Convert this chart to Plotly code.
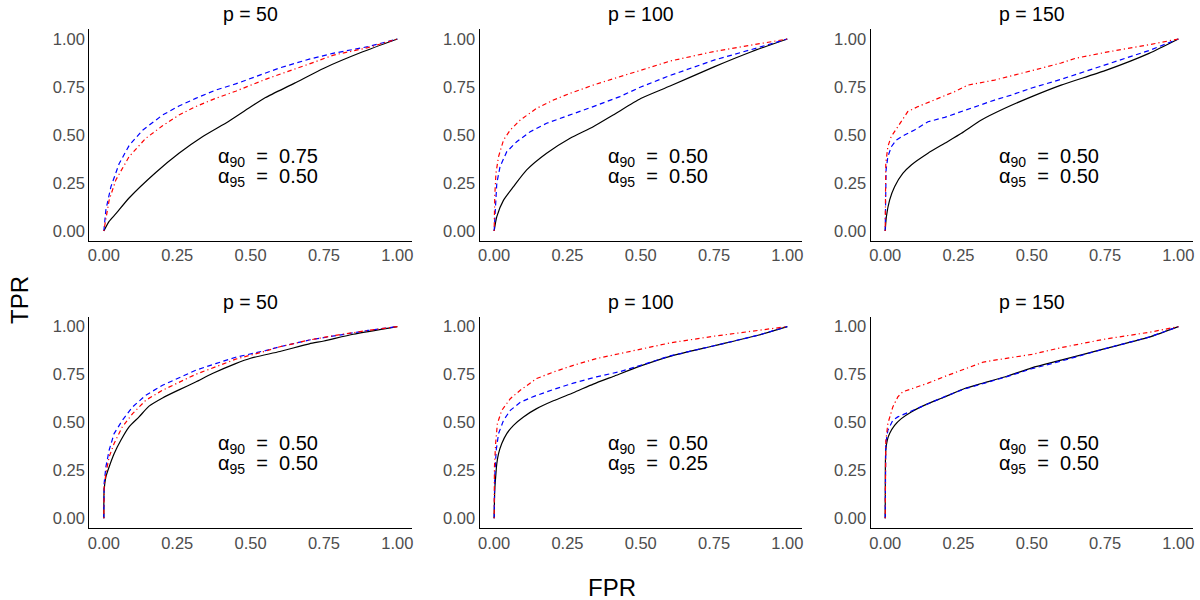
import plotly.graph_objects as go

# ---------------- data ----------------
titles = ["p = 50", "p = 100", "p = 150", "p = 50", "p = 100", "p = 150"]
tick_vals = [0, 0.25, 0.5, 0.75, 1.0]
tick_text = ["0.00", "0.25", "0.50", "0.75", "1.00"]
alpha90 = ["0.75", "0.50", "0.50", "0.50", "0.50", "0.50"]
alpha95 = ["0.50", "0.50", "0.50", "0.50", "0.25", "0.50"]

# panel 1 (row 1, p = 50)
p1_black_fpr = [0, 0.018, 0.041, 0.086, 0.177, 0.256, 0.336, 0.426, 0.506, 0.551, 0.65, 0.75, 0.88, 1]
p1_black_tpr = [0, 0.05, 0.09, 0.172, 0.305, 0.405, 0.491, 0.572, 0.652, 0.695, 0.77, 0.848, 0.932, 1]
p1_blue_fpr = [0, 0.007, 0.024, 0.052, 0.086, 0.132, 0.2, 0.256, 0.313, 0.381, 0.449, 0.551, 0.6, 0.7, 0.78, 0.9, 1]
p1_blue_tpr = [0, 0.11, 0.23, 0.35, 0.445, 0.525, 0.604, 0.651, 0.691, 0.734, 0.766, 0.822, 0.85, 0.895, 0.925, 0.96, 1]
p1_red_fpr = [0, 0.018, 0.041, 0.086, 0.143, 0.2, 0.256, 0.313, 0.381, 0.449, 0.551, 0.6, 0.7, 0.78, 0.9, 1]
p1_red_tpr = [0, 0.16, 0.266, 0.387, 0.483, 0.548, 0.604, 0.648, 0.691, 0.728, 0.79, 0.815, 0.87, 0.915, 0.955, 1]

# panel 2 (row 1, p = 100)
p2_black_fpr = [0, 0.009, 0.032, 0.066, 0.111, 0.179, 0.259, 0.338, 0.406, 0.5, 0.6, 0.75, 0.88, 1]
p2_black_tpr = [0, 0.075, 0.161, 0.231, 0.318, 0.405, 0.483, 0.543, 0.604, 0.69, 0.755, 0.855, 0.935, 1]
p2_blue_fpr = [0, 0.004, 0.009, 0.02, 0.043, 0.077, 0.123, 0.179, 0.259, 0.338, 0.429, 0.5, 0.6, 0.75, 0.9, 1]
p2_blue_tpr = [0, 0.144, 0.248, 0.335, 0.413, 0.465, 0.517, 0.561, 0.604, 0.648, 0.70, 0.75, 0.81, 0.89, 0.955, 1]
p2_red_fpr = [0, 0.002, 0.006, 0.015, 0.032, 0.055, 0.089, 0.145, 0.202, 0.259, 0.338, 0.429, 0.5, 0.6, 0.75, 0.9, 1]
p2_red_tpr = [0, 0.179, 0.30, 0.387, 0.474, 0.526, 0.578, 0.639, 0.682, 0.717, 0.76, 0.804, 0.84, 0.885, 0.935, 0.975, 1]

# panel 3 (row 1, p = 150)
p3_black_fpr = [0, 0.004, 0.015, 0.032, 0.06, 0.089, 0.146, 0.203, 0.26, 0.328, 0.408, 0.5, 0.6, 0.75, 0.9, 1]
p3_black_tpr = [0, 0.075, 0.161, 0.231, 0.30, 0.344, 0.405, 0.457, 0.509, 0.578, 0.639, 0.70, 0.76, 0.835, 0.925, 1]
p3_blue_fpr = [0, 0.001, 0.003, 0.009, 0.021, 0.038, 0.066, 0.1, 0.146, 0.203, 0.26, 0.317, 0.373, 0.43, 0.5, 0.6, 0.75, 0.9, 1]
p3_blue_tpr = [0, 0.214, 0.318, 0.387, 0.439, 0.474, 0.50, 0.526, 0.569, 0.592, 0.622, 0.656, 0.682, 0.708, 0.745, 0.79, 0.865, 0.94, 1]
p3_red_fpr = [0, 0.002, 0.009, 0.02, 0.043, 0.077, 0.112, 0.168, 0.237, 0.282, 0.373, 0.5, 0.6, 0.65, 0.75, 0.9, 1]
p3_red_tpr = [0, 0.352, 0.439, 0.491, 0.543, 0.622, 0.648, 0.682, 0.726, 0.76, 0.786, 0.835, 0.875, 0.9, 0.93, 0.97, 1]

# panel 4 (row 2, p = 50)
p4_black_fpr = [0, 0.001, 0.007, 0.018, 0.035, 0.058, 0.086, 0.12, 0.154, 0.2, 0.256, 0.313, 0.37, 0.449, 0.5, 0.6, 0.7, 0.75, 0.85, 1]
p4_black_tpr = [0, 0.146, 0.216, 0.268, 0.337, 0.407, 0.477, 0.529, 0.585, 0.628, 0.67, 0.711, 0.755, 0.807, 0.835, 0.87, 0.91, 0.925, 0.96, 1]
p4_blue_fpr = [0, 0.001, 0.007, 0.018, 0.035, 0.063, 0.098, 0.143, 0.2, 0.256, 0.313, 0.381, 0.449, 0.551, 0.6, 0.7, 0.8, 0.9, 1]
p4_blue_tpr = [0, 0.181, 0.268, 0.355, 0.442, 0.511, 0.581, 0.642, 0.694, 0.734, 0.772, 0.807, 0.84, 0.875, 0.895, 0.93, 0.955, 0.98, 1]
p4_red_fpr = [0, 0.001, 0.007, 0.018, 0.035, 0.063, 0.098, 0.143, 0.2, 0.256, 0.313, 0.381, 0.449, 0.551, 0.6, 0.7, 0.8, 0.9, 1]
p4_red_tpr = [0, 0.163, 0.233, 0.32, 0.39, 0.477, 0.546, 0.616, 0.668, 0.711, 0.751, 0.79, 0.83, 0.872, 0.895, 0.93, 0.957, 0.98, 1]

# panel 5 (row 2, p = 100)
p5_black_fpr = [0, 0.002, 0.006, 0.009, 0.015, 0.026, 0.043, 0.066, 0.1, 0.145, 0.202, 0.27, 0.338, 0.406, 0.5, 0.6, 0.75, 0.9, 1]
p5_black_tpr = [0, 0.146, 0.233, 0.285, 0.337, 0.39, 0.442, 0.485, 0.529, 0.572, 0.613, 0.655, 0.70, 0.74, 0.795, 0.845, 0.9, 0.955, 1]
p5_blue_fpr = [0, 0.002, 0.007, 0.015, 0.032, 0.055, 0.089, 0.134, 0.202, 0.27, 0.349, 0.429, 0.5, 0.6, 0.75, 0.9, 1]
p5_blue_tpr = [0, 0.216, 0.355, 0.442, 0.511, 0.563, 0.605, 0.635, 0.672, 0.705, 0.738, 0.765, 0.798, 0.847, 0.9, 0.955, 1]
p5_red_fpr = [0, 0.001, 0.005, 0.011, 0.026, 0.055, 0.089, 0.145, 0.202, 0.27, 0.349, 0.429, 0.553, 0.6, 0.75, 0.9, 1]
p5_red_tpr = [0, 0.268, 0.39, 0.494, 0.563, 0.624, 0.668, 0.729, 0.763, 0.798, 0.833, 0.859, 0.903, 0.915, 0.95, 0.98, 1]

# panel 6 (row 2, p = 150)
p6_black_fpr = [0, 0.0005, 0.002, 0.007, 0.015, 0.032, 0.055, 0.089, 0.146, 0.203, 0.271, 0.328, 0.407, 0.5, 0.6, 0.75, 0.9, 1]
p6_black_tpr = [0, 0.268, 0.355, 0.407, 0.442, 0.485, 0.52, 0.555, 0.598, 0.633, 0.677, 0.703, 0.737, 0.785, 0.825, 0.885, 0.945, 1]
p6_blue_fpr = [0, 0.0005, 0.002, 0.009, 0.026, 0.043, 0.089, 0.146, 0.203, 0.271, 0.328, 0.407, 0.5, 0.6, 0.75, 0.9, 1]
p6_blue_tpr = [0, 0.30, 0.39, 0.459, 0.511, 0.529, 0.56, 0.598, 0.635, 0.675, 0.70, 0.735, 0.78, 0.82, 0.885, 0.945, 1]
p6_red_fpr = [0, 0.0005, 0.002, 0.009, 0.026, 0.043, 0.06, 0.089, 0.146, 0.203, 0.271, 0.335, 0.407, 0.5, 0.6, 0.75, 0.9, 1]
p6_red_tpr = [0, 0.32, 0.40, 0.494, 0.581, 0.633, 0.66, 0.675, 0.705, 0.74, 0.778, 0.815, 0.833, 0.855, 0.89, 0.935, 0.97, 1]

panels = [
    (p1_black_fpr, p1_black_tpr, p1_blue_fpr, p1_blue_tpr, p1_red_fpr, p1_red_tpr),
    (p2_black_fpr, p2_black_tpr, p2_blue_fpr, p2_blue_tpr, p2_red_fpr, p2_red_tpr),
    (p3_black_fpr, p3_black_tpr, p3_blue_fpr, p3_blue_tpr, p3_red_fpr, p3_red_tpr),
    (p4_black_fpr, p4_black_tpr, p4_blue_fpr, p4_blue_tpr, p4_red_fpr, p4_red_tpr),
    (p5_black_fpr, p5_black_tpr, p5_blue_fpr, p5_blue_tpr, p5_red_fpr, p5_red_tpr),
    (p6_black_fpr, p6_black_tpr, p6_blue_fpr, p6_blue_tpr, p6_red_fpr, p6_red_tpr),
]

# ---------------- layout geometry ----------------
W, H = 1200, 600
FONT = "Liberation Sans, Arial, Helvetica, sans-serif"
col_px = [(88.3, 411.7), (479.3, 802.3), (871.0, 1194.0)]
row_px = [(29.4, 240.6), (317.0, 527.9)]

fig = go.Figure()
layout = dict(
    width=W, height=H,
    margin=dict(l=0, r=0, t=0, b=0),
    paper_bgcolor="white", plot_bgcolor="white",
    showlegend=False,
    font=dict(family=FONT, color="black", size=16),
)
annotations = []

NB = "\u00a0"
for i, (bf, bt, uf, ut, rf, rt) in enumerate(panels):
    r, c = divmod(i, 3)
    n = "" if i == 0 else str(i + 1)
    xa, ya = "x" + n, "y" + n
    x0, x1 = col_px[c]
    y0, y1 = row_px[r]
    layout["xaxis" + n] = dict(
        domain=[x0 / W, x1 / W], anchor=ya, range=[-0.05, 1.05],
        tickvals=tick_vals, ticktext=tick_text, showgrid=False, zeroline=False,
        showline=True, linecolor="black", linewidth=1, ticks="",
        tickfont=dict(size=16.5, color="#4D4D4D", family=FONT),
    )
    layout["yaxis" + n] = dict(
        domain=[1 - y1 / H, 1 - y0 / H], anchor=xa, range=[-0.05, 1.05],
        tickvals=tick_vals, ticktext=tick_text, showgrid=False, zeroline=False,
        showline=True, linecolor="black", linewidth=1, ticks="",
        tickfont=dict(size=16.5, color="#4D4D4D", family=FONT),
    )
    fig.add_trace(go.Scatter(x=bf, y=bt, mode="lines", xaxis=xa, yaxis=ya,
                             line=dict(color="black", width=1.2, shape="spline", smoothing=0.6)))
    fig.add_trace(go.Scatter(x=uf, y=ut, mode="lines", xaxis=xa, yaxis=ya,
                             line=dict(color="blue", width=1.2, dash="5px,3.5px")))
    fig.add_trace(go.Scatter(x=rf, y=rt, mode="lines", xaxis=xa, yaxis=ya,
                             line=dict(color="red", width=1.2, dash="1.2px,3px,4.5px,3px")))
    # panel title
    annotations.append(dict(
        text=titles[i], xref="paper", yref="paper",
        x=(x0 + x1) / 2 / W, y=1 - (14 if r == 0 else 302) / H,
        xanchor="center", yanchor="middle", showarrow=False,
        font=dict(size=19.5, color="black", family=FONT)))
    # alpha annotations
    for yy, sub, val in ((0.385, "90", alpha90[i]), (0.28, "95", alpha95[i])):
        annotations.append(dict(
            text="α<sub>" + sub + "</sub>" + NB + NB + "=" + NB + NB + val,
            xref=xa, yref=ya, x=0.383, y=yy, xanchor="left", yanchor="middle",
            showarrow=False, font=dict(size=20, color="black", family=FONT)))

annotations.append(dict(text="TPR", xref="paper", yref="paper", x=18 / W, y=1 - 300 / H,
                        xanchor="center", yanchor="middle", textangle=-90, showarrow=False,
                        font=dict(size=24, color="black", family=FONT)))
annotations.append(dict(text="FPR", xref="paper", yref="paper", x=612 / W, y=1 - 587 / H,
                        xanchor="center", yanchor="middle", showarrow=False,
                        font=dict(size=24, color="black", family=FONT)))
layout["annotations"] = annotations
fig.update_layout(**layout)
fig.write_html(
    "out.html",
    config={"displayModeBar": False},
    post_script="document.body.style.margin='0';document.body.style.padding='0';"
                "document.documentElement.style.overflow='hidden';",
)
